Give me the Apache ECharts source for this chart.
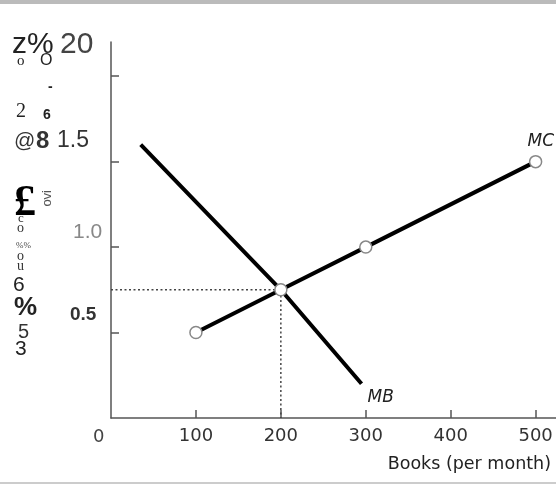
<!DOCTYPE html>
<html><head><meta charset="utf-8">
<script src="https://cdn.jsdelivr.net/npm/echarts@6/dist/echarts.min.js"></script>
<style>html,body{margin:0;padding:0;background:#fff}#c{width:556px;height:485px}</style>
</head><body><div id="c"></div>
<script>
// Data
const xTicks = [100, 200, 300, 400, 500];
const yTicks = [0.5, 1.0, 1.5, 2.0];
const mcX = [100, 200, 300, 500];
const mcY = [0.5, 0.75, 1.0, 1.5];
const mbX = [35, 200, 295];
const mbY = [1.6, 0.75, 0.2];
const eqX = 200;
const eqY = 0.75;
const xTitle = 'Books (per month)';

const chart = echarts.init(document.getElementById('c'), null, {renderer: 'canvas'});
const curveLabel = {fontFamily: 'DejaVu Sans', fontStyle: 'italic', fontSize: 17, color: '#222'};
const txt = (x, y, s, size, opts) => ({type: 'text', left: x, top: y, z: 10,
  style: Object.assign({text: s, fontSize: size, fontFamily: 'Liberation Sans', fill: '#222'}, opts || {})});

const option = {
  animation: false,
  backgroundColor: '#fff',
  grid: {left: 111, right: 0, top: 42, bottom: 67},
  xAxis: {
    type: 'value', min: 0, max: 524,
    axisLine: {show: true, lineStyle: {color: '#555', width: 1.5}},
    axisTick: {show: true, inside: true, length: 8, customValues: xTicks, lineStyle: {color: '#555', width: 1.5}},
    axisLabel: {show: true, customValues: xTicks, margin: 9, fontSize: 18, fontFamily: 'DejaVu Sans', color: '#333'},
    splitLine: {show: false}
  },
  yAxis: {
    type: 'value', min: 0, max: 2.2,
    axisLine: {show: true, lineStyle: {color: '#555', width: 1.5}},
    axisTick: {show: true, inside: true, length: 8, customValues: yTicks, lineStyle: {color: '#555', width: 1.5}},
    axisLabel: {show: false},
    splitLine: {show: false}
  },
  series: [
    {type: 'line', data: [[0, eqY], [eqX, eqY], [eqX, 0]], symbol: 'none',
      lineStyle: {color: '#444', width: 1.5, type: [2, 2.5]}, z: 1},
    {type: 'line', data: mbX.map((x, i) => [x, mbY[i]]), symbol: 'none',
      lineStyle: {color: '#000', width: 4}, z: 2,
      endLabel: Object.assign({show: true, formatter: 'MB', offset: [-2, 14]}, curveLabel)},
    {type: 'line', data: mcX.map((x, i) => [x, mcY[i]]), symbol: 'circle', symbolSize: 12, showAllSymbol: true,
      itemStyle: {color: '#fff', borderColor: '#888', borderWidth: 1.5},
      lineStyle: {color: '#000', width: 4}, z: 3,
      endLabel: Object.assign({show: true, formatter: 'MC', offset: [-16, -20]}, curveLabel)}
  ],
  graphic: [
    {type: 'rect', left: 0, top: 0, z: 10, shape: {width: 556, height: 4}, style: {fill: '#bbb'}},
    {type: 'rect', left: 0, top: 482, z: 10, shape: {width: 556, height: 2}, style: {fill: '#ccc'}},
    txt(93, 428, '0', 18, {fontFamily: 'DejaVu Sans', fill: '#444'}),
    {type: 'text', right: 5, top: 455, z: 10, style: {text: xTitle, fontSize: 17.5, fontFamily: 'DejaVu Sans', fill: '#222'}},
    // OCR-style vertical axis text from the scan
    txt(12, 30, 'z%', 30, {fill: '#222'}),
    txt(60, 30, '20', 30, {fill: '#444'}),
    txt(17, 54, 'o', 15, {fontFamily: 'Liberation Serif'}),
    txt(40, 53, 'O', 16, {}),
    txt(48, 80, '-', 14, {fontWeight: 'bold'}),
    txt(16, 102, '2', 20, {fontFamily: 'Liberation Serif'}),
    txt(43, 108, '6', 14, {fontWeight: 'bold'}),
    txt(14, 131, '@', 21, {fill: '#333'}),
    txt(36, 129, '8', 24, {fontWeight: 'bold', fill: '#333'}),
    txt(57, 129, '1.5', 23, {fill: '#333'}),
    {type: 'text', left: 41, top: 190, rotation: Math.PI / 2, z: 10,
      style: {text: 'ovi', fontSize: 13, fontFamily: 'Liberation Sans', fill: '#555'}},
    txt(14, 182, '£', 44, {fontFamily: 'Liberation Serif', fontWeight: 'bold', fill: '#000'}),
    txt(18, 212, 'c', 13, {fontFamily: 'Liberation Serif', fill: '#333'}),
    txt(17, 221, 'o', 14, {fontFamily: 'Liberation Serif', fill: '#333'}),
    txt(16, 241, '%%', 9, {fontFamily: 'Liberation Serif', fill: '#444'}),
    txt(17, 249, 'o', 14, {fontFamily: 'Liberation Serif', fill: '#333'}),
    txt(17, 259, 'u', 14, {fontFamily: 'Liberation Serif', fill: '#333'}),
    txt(13, 275, '6', 21, {fill: '#222'}),
    txt(14, 295, '%', 26, {fontWeight: 'bold', fill: '#222'}),
    txt(18, 322, '5', 20, {fill: '#333'}),
    txt(15, 339, '3', 21, {fill: '#222'}),
    txt(73, 222, '1.0', 21, {fill: '#888'}),
    txt(70, 305, '0.5', 19, {fontWeight: 'bold', fill: '#333'})
  ]
};
chart.setOption(option);
</script></body></html>
